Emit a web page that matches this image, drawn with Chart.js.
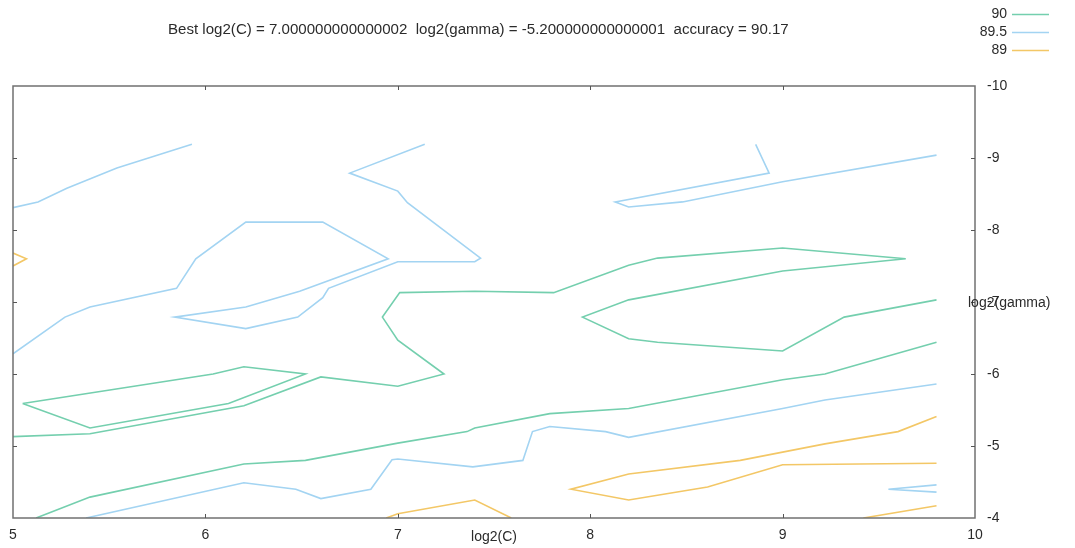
<!DOCTYPE html>
<html>
<head>
<meta charset="utf-8">
<script src="https://cdn.jsdelivr.net/npm/chart.js@4"></script>
<style>
  html, body { margin: 0; padding: 0; background: #fff; }
  #wrap { width: 1075px; height: 548px; }
</style>
</head>
<body>
<div id="wrap"><canvas id="myChart" width="1075" height="548"></canvas></div>
<script>
const titleText = 'Best log2(C) = 7.000000000000002  log2(gamma) = -5.200000000000001  accuracy = 90.17';
const xTitle = 'log2(C)';
const yTitle = 'log2(gamma)';
const levels = ['90', '89.5', '89'];
const levelColors = ['#74cfae', '#a3d4f2', '#f3c766'];

// contour level 90
const g90a = [[5.00,-5.13],[5.40,-5.17],[6.20,-5.56],[6.60,-5.96],[7.00,-5.83],[7.24,-6.00],[7.00,-6.47],[6.92,-6.79],[7.01,-7.13],[7.40,-7.15],[7.81,-7.13],[8.20,-7.51],[8.35,-7.61],[9.00,-7.75],[9.64,-7.60],[9.00,-7.43],[8.20,-7.03],[7.96,-6.79],[8.20,-6.49],[8.35,-6.44],[9.00,-6.32],[9.32,-6.79],[9.80,-7.03]];
const g90b = [[5.05,-5.59],[5.40,-5.25],[6.12,-5.59],[6.52,-6.00],[6.20,-6.10],[6.04,-6.00],[5.05,-5.59]];
const g90c = [[5.12,-4.00],[5.40,-4.29],[6.20,-4.75],[6.52,-4.80],[7.00,-5.04],[7.36,-5.20],[7.40,-5.25],[7.79,-5.45],[8.20,-5.52],[9.00,-5.92],[9.22,-6.00],[9.80,-6.44]];

// contour level 89.5
const b895a = [[5.00,-8.31],[5.13,-8.39],[5.28,-8.58],[5.54,-8.86],[5.93,-9.19]];
const b895b = [[5.00,-6.28],[5.27,-6.79],[5.40,-6.93],[5.85,-7.19],[5.95,-7.60],[6.21,-8.11],[6.61,-8.11],[6.95,-7.60],[6.49,-7.15],[6.21,-6.93],[5.84,-6.79],[6.21,-6.63],[6.48,-6.79],[6.61,-7.06],[6.64,-7.19],[7.00,-7.56],[7.40,-7.56],[7.43,-7.61],[7.05,-8.38],[7.00,-8.54],[6.75,-8.79],[7.14,-9.19]];
const b895c = [[8.86,-9.19],[8.93,-8.79],[8.13,-8.39],[8.20,-8.32],[8.48,-8.39],[9.00,-8.67],[9.80,-9.04]];
const b895d = [[5.38,-4.00],[6.20,-4.49],[6.47,-4.40],[6.60,-4.27],[6.86,-4.40],[6.97,-4.81],[7.00,-4.82],[7.39,-4.71],[7.65,-4.80],[7.70,-5.20],[7.79,-5.27],[8.08,-5.20],[8.20,-5.12],[9.00,-5.52],[9.22,-5.64],[9.80,-5.86]];
const b895e = [[9.80,-4.46],[9.55,-4.40],[9.80,-4.36]];

// contour level 89
const o89a = [[5.00,-7.68],[5.07,-7.60],[5.00,-7.50]];
const o89b = [[6.94,-4.00],[7.00,-4.06],[7.40,-4.25],[7.59,-4.00]];
const o89c = [[9.80,-5.41],[9.60,-5.20],[9.22,-5.03],[8.78,-4.80],[8.20,-4.61],[7.90,-4.40],[8.20,-4.25],[8.61,-4.43],[9.00,-4.74],[9.80,-4.76]];
const o89d = [[9.42,-4.00],[9.80,-4.17]];

const segments = [
    [0, g90a], [0, g90b], [0, g90c],
    [1, b895a], [1, b895b], [1, b895c], [1, b895d], [1, b895e],
    [2, o89a], [2, o89b], [2, o89c], [2, o89d]
];

const textFont = '"Liberation Sans", Arial, sans-serif';
const textColor = '#2b2b2b';

function makeDataset(level, points) {
    return {
        type: 'scatter',
        label: levels[level],
        data: points.map(p => ({ x: p[0], y: p[1] })),
        showLine: true,
        borderColor: levelColors[level],
        backgroundColor: levelColors[level],
        borderWidth: 1.6,
        pointRadius: 0,
        tension: 0
    };
}

// border box, inward ticks and the extra texts gnuplot puts around the plot
const gnuplotFrame = {
    id: 'gnuplotFrame',
    afterDraw(chart) {
        const ctx = chart.ctx;
        const area = chart.chartArea;
        const xs = chart.scales.x;
        const ys = chart.scales.y;
        ctx.save();
        ctx.strokeStyle = '#707070';
        ctx.lineWidth = 1.5;
        ctx.strokeRect(area.left, area.top, area.right - area.left, area.bottom - area.top);
        ctx.lineWidth = 1;
        ctx.strokeStyle = '#555';
        ctx.beginPath();
        for (let v = 6; v <= 9; v++) {
            const px = Math.round(xs.getPixelForValue(v)) + 0.5;
            ctx.moveTo(px, area.bottom); ctx.lineTo(px, area.bottom - 4);
            ctx.moveTo(px, area.top); ctx.lineTo(px, area.top + 4);
        }
        for (let v = -9; v <= -5; v++) {
            const py = Math.round(ys.getPixelForValue(v)) + 0.5;
            ctx.moveTo(area.left, py); ctx.lineTo(area.left + 4, py);
            ctx.moveTo(area.right, py); ctx.lineTo(area.right - 4, py);
        }
        ctx.stroke();

        ctx.fillStyle = textColor;
        ctx.textBaseline = 'middle';

        // title, sized to the width it has in the picture
        let size = 14;
        ctx.font = size + 'px ' + textFont;
        size = size * 621 / ctx.measureText(titleText).width;
        ctx.font = size.toFixed(2) + 'px ' + textFont;
        ctx.textAlign = 'left';
        ctx.fillText(titleText, 168, 30);

        // axis titles
        ctx.font = '14px ' + textFont;
        ctx.textAlign = 'center';
        ctx.fillText(xTitle, (area.left + area.right) / 2, 537);
        ctx.textAlign = 'left';
        ctx.fillText(yTitle, 968, ys.getPixelForValue(-7) + 1);

        // key
        ctx.font = '14px ' + textFont;
        for (let i = 0; i < levels.length; i++) {
            const y = 14 + i * 18;
            ctx.textAlign = 'right';
            ctx.fillStyle = textColor;
            ctx.fillText(levels[i], 1007, y);
            ctx.strokeStyle = levelColors[i];
            ctx.lineWidth = 1.6;
            ctx.beginPath();
            ctx.moveTo(1012, y + 0.5);
            ctx.lineTo(1049, y + 0.5);
            ctx.stroke();
        }
        ctx.restore();
    }
};

const ctx = document.getElementById('myChart').getContext('2d');
const chart = new Chart(ctx, {
    type: 'scatter',
    data: {
        datasets: segments.map(s => makeDataset(s[0], s[1]))
    },
    options: {
        responsive: false,
        animation: false,
        layout: { padding: { left: 13, top: 86, right: 0, bottom: 0 } },
        plugins: {
            legend: { display: false },
            tooltip: { enabled: false }
        },
        scales: {
            x: {
                type: 'linear',
                position: 'bottom',
                min: 5,
                max: 10,
                grid: { display: false, drawTicks: false },
                border: { display: false },
                ticks: {
                    stepSize: 1,
                    padding: 9,
                    color: textColor,
                    font: { family: textFont, size: 14 }
                },
                afterFit(scale) { scale.height = 30; }
            },
            y: {
                type: 'linear',
                position: 'right',
                reverse: true,
                min: -10,
                max: -4,
                grid: { display: false, drawTicks: false },
                border: { display: false },
                ticks: {
                    stepSize: 1,
                    padding: 12,
                    color: textColor,
                    font: { family: textFont, size: 14 }
                },
                afterFit(scale) { scale.width = 100; }
            }
        }
    },
    plugins: [gnuplotFrame]
});
</script>
</body>
</html>
